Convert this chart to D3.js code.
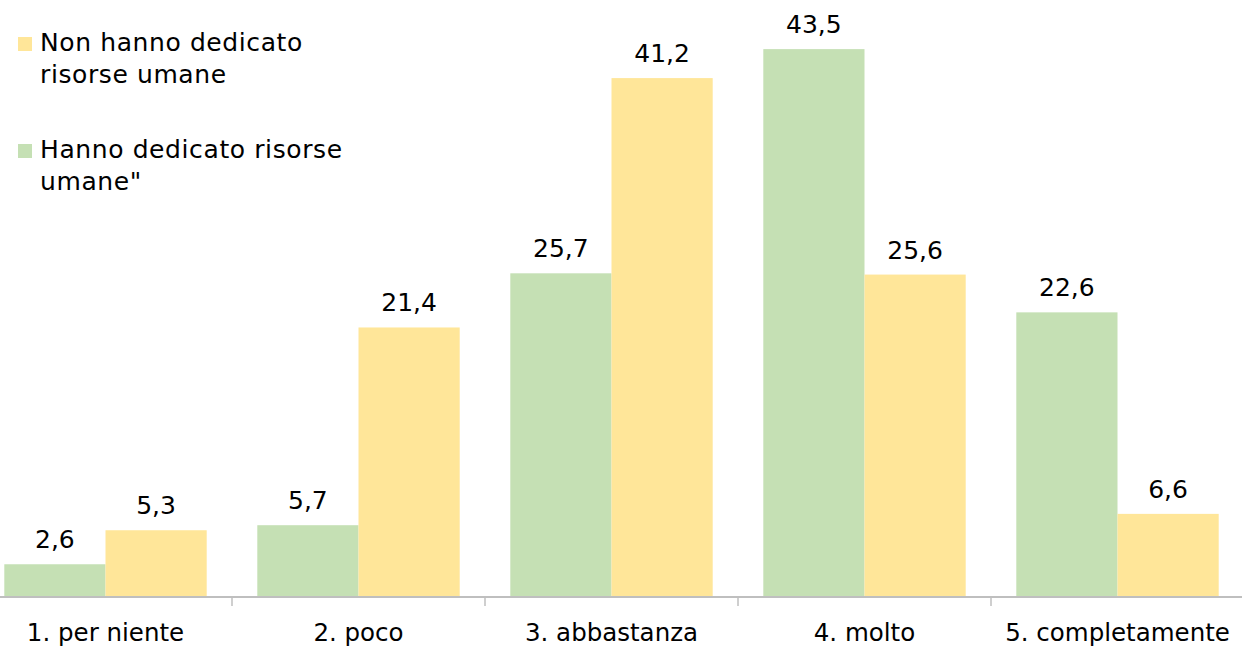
<!DOCTYPE html>
<html>
<head>
<meta charset="utf-8">
<script src="https://cdn.jsdelivr.net/npm/d3@7"></script>
<style>
  body { margin: 0; background: #fff; }
  svg text { font-family: "DejaVu Sans", Verdana, sans-serif; fill: #000; }
</style>
</head>
<body>
<svg id="chart" width="1242" height="649"></svg>
<script>
const categories = ["1. per niente", "2. poco", "3. abbastanza", "4. molto", "5. completamente"];
const seriesNames = ["Hanno dedicato risorse umane\"", "Non hanno dedicato risorse umane"];
const hannoValues = [2.6, 5.7, 25.7, 43.5, 22.6];
const nonHannoValues = [5.3, 21.4, 41.2, 25.6, 6.6];
const colors = ["#C5E0B4", "#FFE699"];

const svg = d3.select("#chart");
const width = 1242, baseY = 597;

const rows = categories.map((c, i) => ({ cat: c, vals: [hannoValues[i], nonHannoValues[i]] }));

// x: band per category, sub-band per series
const x = d3.scaleBand()
    .domain(categories)
    .range([-21, 1244])
    .paddingInner(0.2)
    .paddingOuter(0.1);

const xSub = d3.scaleBand()
    .domain([0, 1])
    .range([0, x.bandwidth()]);

const y = d3.scaleLinear()
    .domain([0, 47.4])
    .range([baseY, 0]);

const fmt = v => d3.format(".1f")(v).replace(".", ",");

// Bars
const groups = svg.selectAll(".grp")
    .data(rows)
    .enter()
    .append("g")
    .attr("class", "grp")
    .attr("transform", d => `translate(${x(d.cat)},0)`);

groups.selectAll("rect")
    .data(d => d.vals.map((v, i) => ({ v, i })))
    .enter()
    .append("rect")
    .attr("x", d => xSub(d.i))
    .attr("width", xSub.bandwidth())
    .attr("y", d => y(d.v))
    .attr("height", d => baseY - y(d.v))
    .attr("fill", d => colors[d.i]);

// Value labels
groups.selectAll(".val")
    .data(d => d.vals.map((v, i) => ({ v, i })))
    .enter()
    .append("text")
    .attr("class", "val")
    .attr("x", d => xSub(d.i) + xSub.bandwidth() / 2)
    .attr("y", d => y(d.v) - 16)
    .attr("text-anchor", "middle")
    .style("font-size", "25px")
    .text(d => fmt(d.v));

// Axis line + boundary ticks
const step = x.step();
const boundaries = categories.slice(1).map(c => x(c) - step * x.paddingInner() / 2);

svg.append("line")
    .attr("x1", 0).attr("x2", width)
    .attr("y1", baseY).attr("y2", baseY)
    .attr("stroke", "#BFBFBF")
    .attr("stroke-width", 2);

svg.selectAll(".tickmark")
    .data(boundaries)
    .enter()
    .append("line")
    .attr("class", "tickmark")
    .attr("x1", d => d).attr("x2", d => d)
    .attr("y1", baseY).attr("y2", baseY + 9)
    .attr("stroke", "#BFBFBF")
    .attr("stroke-width", 1.5);

// Category labels
svg.selectAll(".cat")
    .data(categories)
    .enter()
    .append("text")
    .attr("class", "cat")
    .attr("x", d => x(d) + x.bandwidth() / 2)
    .attr("y", 641)
    .attr("text-anchor", "middle")
    .style("font-size", "24.5px")
    .text(d => d);

// Legend (non hanno first)
const legendItems = [
    { lines: ["Non hanno dedicato", "risorse umane"], color: colors[1], top: 37 },
    { lines: ["Hanno dedicato risorse", "umane\""], color: colors[0], top: 144 }
];

const legend = svg.selectAll(".leg")
    .data(legendItems)
    .enter()
    .append("g")
    .attr("class", "leg")
    .attr("transform", d => `translate(18,${d.top})`);

legend.append("rect")
    .attr("width", 14).attr("height", 14)
    .attr("fill", d => d.color);

legend.each(function (d) {
    const t = d3.select(this).append("text")
        .attr("x", 22)
        .attr("y", 14)
        .style("font-size", "25px")
        .style("letter-spacing", "0.6px");
    d.lines.forEach((ln, i) => {
        t.append("tspan")
            .attr("x", 22)
            .attr("dy", i === 0 ? 0 : 32)
            .text(ln);
    });
});
</script>
</body>
</html>
